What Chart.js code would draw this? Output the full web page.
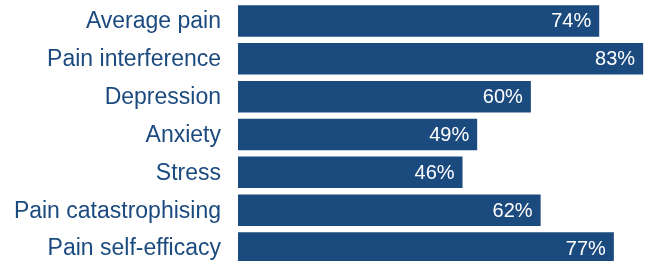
<!DOCTYPE html>
<html>
<head>
<meta charset="utf-8">
<script src="https://cdn.jsdelivr.net/npm/chart.js@4/dist/chart.umd.min.js"></script>
<style>
	html, body { margin: 0; padding: 0; width: 649px; height: 261px; overflow: hidden; background: #fff; }
	#wrap { position: relative; width: 649px; height: 267px; }
</style>
</head>
<body>
<div id="wrap"><canvas id="outcomeChart"></canvas></div>
<script>
var categories = [
	"Average pain",
	"Pain interference",
	"Depression",
	"Anxiety",
	"Stress",
	"Pain catastrophising",
	"Pain self-efficacy"
];
var percentValues = [74, 83, 60, 49, 46, 62, 77];

var barColor = "#1B4A7F";
var fontName = "'Liberation Sans', Arial, sans-serif";

// category names left of the axis and white value labels inside each bar
var barLabels = {
	id: "barLabels",
	afterDatasetsDraw: function (chart) {
		var ctx = chart.ctx;
		var yScale = chart.scales.y;
		var meta = chart.getDatasetMeta(0);
		ctx.save();
		ctx.textBaseline = "middle";
		ctx.textAlign = "right";

		ctx.fillStyle = barColor;
		ctx.font = "23px " + fontName;
		categories.forEach(function (name, i) {
			ctx.fillText(name, yScale.right - 17, yScale.getPixelForTick(i) + 1);
		});

		ctx.fillStyle = "#ffffff";
		ctx.font = "20px " + fontName;
		meta.data.forEach(function (bar, i) {
			ctx.fillText(percentValues[i] + "%", bar.x - 8, bar.y + 1);
		});
		ctx.restore();
	}
};

new Chart(document.getElementById("outcomeChart"), {
	type: "bar",
	data: {
		labels: categories,
		datasets: [{
			data: percentValues,
			backgroundColor: barColor,
			borderWidth: 0,
			barPercentage: 0.833,
			categoryPercentage: 1
		}]
	},
	options: {
		indexAxis: "y",
		responsive: true,
		maintainAspectRatio: false,
		animation: false,
		layout: { padding: { top: 2, right: 0, bottom: 0, left: 0 } },
		plugins: {
			legend: { display: false },
			tooltip: { enabled: false }
		},
		scales: {
			x: {
				display: false,
				min: 0,
				max: 84.2
			},
			y: {
				afterFit: function (scale) { scale.width = 238; },
				grid: { display: false },
				border: { display: false },
				ticks: { display: false }
			}
		}
	},
	plugins: [barLabels]
});
</script>
</body>
</html>
